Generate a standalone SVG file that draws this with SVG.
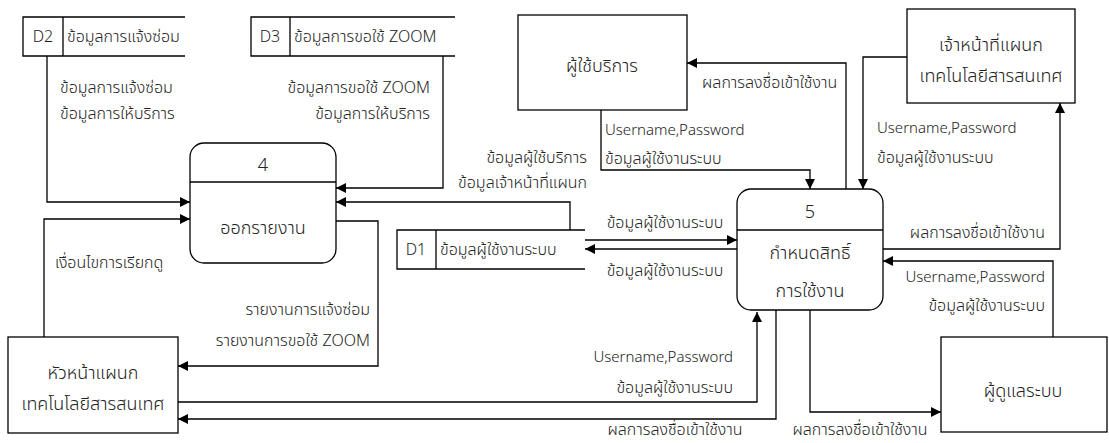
<svg xmlns="http://www.w3.org/2000/svg" width="1109" height="443" viewBox="0 0 1109 443">
<style>
text{font-family:"Noto Sans Thai","Leelawadee UI","Tahoma","Noto Sans","DejaVu Sans",sans-serif;font-size:16px;font-weight:300;fill:#222}
.box{fill:#fff;stroke:#000;stroke-width:1.3}
.ln{fill:none;stroke:#000;stroke-width:1.3}
.c{text-anchor:middle}
.r{text-anchor:end}
.big{font-size:18px}
.en{font-size:15px}
</style>
<defs>
<marker id="ah" viewBox="0 0 10 10" refX="10" refY="5" markerWidth="10" markerHeight="10" markerUnits="userSpaceOnUse" orient="auto">
<path d="M0,0 L10,5 L0,10 Z" fill="#000"/>
</marker>
</defs>
<rect width="1109" height="443" fill="#fff"/>

<g id="connectors">
<path class="ln" d="M47,56 V202 H190" marker-end="url(#ah)"/>
<path class="ln" d="M443,56 V188 H336" marker-end="url(#ah)"/>
<path class="ln" d="M570,230 V202 H336" marker-end="url(#ah)"/>
<path class="ln" d="M44,337 V219 H190" marker-end="url(#ah)"/>
<path class="ln" d="M336,221 H378 V366 H178" marker-end="url(#ah)"/>
<path class="ln" d="M585,240 H737" marker-end="url(#ah)"/>
<path class="ln" d="M737,249 H585" marker-end="url(#ah)"/>
<path class="ln" d="M178,402 H757 V312" marker-end="url(#ah)"/>
<path class="ln" d="M776,310 V419 H178" marker-end="url(#ah)"/>
<path class="ln" d="M846,189 V63 H687" marker-end="url(#ah)"/>
<path class="ln" d="M601,110 V170 H810 V189" marker-end="url(#ah)"/>
<path class="ln" d="M907,57 H863 V189" marker-end="url(#ah)"/>
<path class="ln" d="M883,249 H1060 V103" marker-end="url(#ah)"/>
<path class="ln" d="M1053,337 V261 H883" marker-end="url(#ah)"/>
<path class="ln" d="M810,310 V412 H941" marker-end="url(#ah)"/>

<text x="60" y="93">ข้อมูลการแจ้งซ่อม</text>
<text x="60" y="119">ข้อมูลการให้บริการ</text>
<text class="r" x="430" y="93">ข้อมูลการขอใช้ ZOOM</text>
<text class="r" x="430" y="119">ข้อมูลการให้บริการ</text>
<text class="r" x="587" y="163">ข้อมูลผู้ใช้บริการ</text>
<text class="r" x="587" y="188">ข้อมูลเจ้าหน้าที่แผนก</text>
<text x="55" y="268">เงื่อนไขการเรียกดู</text>
<text class="r" x="370" y="315">รายงานการแจ้งซ่อม</text>
<text class="r" x="370" y="346">รายงานการขอใช้ ZOOM</text>
<text class="c" x="665" y="228">ข้อมูลผู้ใช้งานระบบ</text>
<text class="c" x="665" y="276">ข้อมูลผู้ใช้งานระบบ</text>
<text class="r en" x="733" y="362">Username,Password</text>
<text class="r" x="733" y="393">ข้อมูลผู้ใช้งานระบบ</text>
<text class="c" x="675" y="435">ผลการลงชื่อเข้าใช้งาน</text>
<text x="702" y="88">ผลการลงชื่อเข้าใช้งาน</text>
<text class="en" x="605" y="135">Username,Password</text>
<text x="605" y="164">ข้อมูลผู้ใช้งานระบบ</text>
<text class="en" x="877" y="133">Username,Password</text>
<text x="877" y="163">ข้อมูลผู้ใช้งานระบบ</text>
<text class="r" x="1045" y="238">ผลการลงชื่อเข้าใช้งาน</text>
<text class="r en" x="1045" y="282">Username,Password</text>
<text class="r" x="1045" y="311">ข้อมูลผู้ใช้งานระบบ</text>
<text class="c" x="860" y="435">ผลการลงชื่อเข้าใช้งาน</text>
</g>

<g id="d2">
<path class="ln" d="M185,17 H23 V56 H185 M63,17 V56"/>
<text class="c" x="43" y="42">D2</text>
<text x="67" y="42">ข้อมูลการแจ้งซ่อม</text>
</g>
<g id="d3">
<path class="ln" d="M455,17 H251 V56 H455 M290,17 V56"/>
<text class="c" x="270" y="42">D3</text>
<text x="294" y="42">ข้อมูลการขอใช้ ZOOM</text>
</g>
<g id="d1">
<path class="ln" d="M585,230 H397 V269 H585 M436,230 V269"/>
<text class="c" x="416" y="255">D1</text>
<text x="440" y="255">ข้อมูลผู้ใช้งานระบบ</text>
</g>

<g id="p4">
<rect class="box" x="190" y="143" width="146" height="120" rx="14"/>
<path class="ln" d="M190,182 H336"/>
<text class="c big" x="263" y="171">4</text>
<text class="c big" x="263" y="234">ออกรายงาน</text>
</g>
<g id="p5">
<rect class="box" x="737" y="189" width="146" height="121" rx="14"/>
<path class="ln" d="M737,230 H883"/>
<text class="c big" x="810" y="218">5</text>
<text class="c big" x="810" y="259">กำหนดสิทธิ์</text>
<text class="c big" x="810" y="297">การใช้งาน</text>
</g>

<g id="user">
<rect class="box" x="518" y="15" width="169" height="95"/>
<text class="c big" x="602" y="72">ผู้ใช้บริการ</text>
</g>
<g id="staff">
<rect class="box" x="907" y="9" width="168" height="94"/>
<text class="c big" x="991" y="51">เจ้าหน้าที่แผนก</text>
<text class="c big" x="991" y="82">เทคโนโลยีสารสนเทศ</text>
</g>
<g id="head">
<rect class="box" x="8" y="337" width="170" height="96"/>
<text class="c big" x="93" y="379">หัวหน้าแผนก</text>
<text class="c big" x="93" y="410">เทคโนโลยีสารสนเทศ</text>
</g>
<g id="admin">
<rect class="box" x="941" y="337" width="166" height="95"/>
<text class="c big" x="1023" y="397">ผู้ดูแลระบบ</text>
</g>
</svg>
